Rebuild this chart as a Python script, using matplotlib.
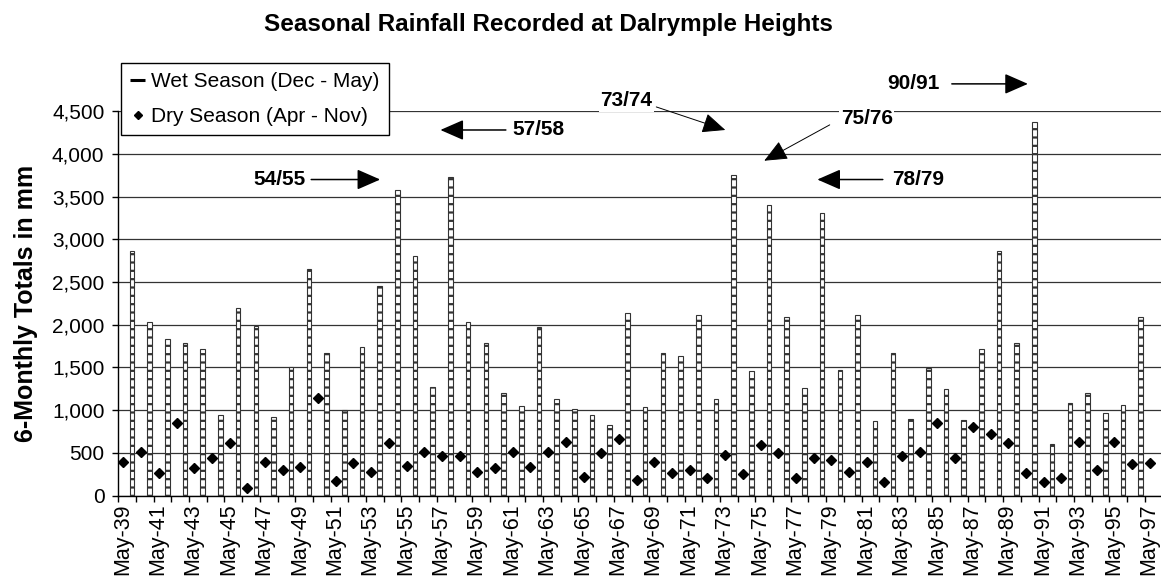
import numpy as np
import matplotlib.pyplot as plt
from matplotlib.lines import Line2D
from matplotlib.ticker import FuncFormatter
from matplotlib.transforms import ScaledTranslation

plt.rcParams['font.family'] = ['Liberation Sans', 'DejaVu Sans']
plt.rcParams['hatch.linewidth'] = 1.6

# Wet season (Dec - May) totals, plotted at May of each year
wet_years = list(range(1940, 1998))
wet_mm = [2860, 2030, 1830, 1780, 1710, 940, 2190, 1985, 925, 1510,
          2650, 1665, 1005, 1735, 2450, 3575, 2805, 1270, 3730, 2030,
          1780, 1205, 1045, 1970, 1130, 1015, 945, 825, 2140, 1040,
          1665, 1630, 2110, 1130, 3750, 1455, 3405, 2085, 1255, 3310,
          1475, 2110, 870, 1665, 890, 1490, 1250, 880, 1710, 2860,
          1780, 4370, 605, 1085, 1205, 965, 1065, 2090]

# Dry season (Apr - Nov) totals
dry_years = list(range(1939, 1998))
dry_mm = [396, 513, 267, 845, 318, 436, 611, 84, 389, 299,
          337, 1138, 173, 377, 271, 611, 349, 513, 466, 462,
          271, 326, 506, 337, 513, 630, 220, 494, 658, 182,
          396, 267, 299, 201, 474, 252, 591, 494, 201, 443,
          416, 271, 396, 155, 462, 513, 853, 443, 806, 716,
          611, 260, 155, 201, 630, 299, 630, 369, 377]

label_years = list(range(1939, 1998, 2))
tick_labels = [f"May-{y % 100:02d}" for y in label_years]

# notes: label, label position, arrow tail, arrow tip (year, mm)
notes = ["54/55", "57/58", "73/74", "75/76", "78/79", "90/91"]
note_xy = [(1948.1, 3700), (1962.75, 4280), (1967.7, 4620), (1981.3, 4410), (1984.2, 3700), (1983.95, 4820)]
tails = [(1949.9, 3700), (1960.9, 4280), (1969.4, 4550), (1979.2, 4340), (1982.2, 3700), (1986.1, 4820)]
tips = [(1953.8, 3700), (1957.2, 4280), (1973.3, 4280), (1975.5, 3920), (1978.5, 3700), (1990.4, 4820)]
thin = [False, False, True, True, False, False]

fig = plt.figure(figsize=(11.61, 5.76), dpi=100)
ax = fig.add_axes([118.3 / 1161, 80.5 / 576, 1 - 118.3 / 1161, 384.3 / 576])

ax.bar(np.array(wet_years) - 0.23, wet_mm, width=0.26, color='white',
       edgecolor='#333333', linewidth=0.8, hatch='--', zorder=3)
ax.plot(np.array(dry_years) + 0.29, dry_mm, 'D', color='black', ms=5,
        ls='none', zorder=4)

ax.set_xlim(1939, 1997.92)
ax.set_ylim(0, 4500)
ax.set_yticks(range(0, 4501, 500))
ax.yaxis.set_major_formatter(FuncFormatter(lambda v, p: f"{v:,.0f}"))
ax.set_xticks(label_years)
ax.set_xticklabels(tick_labels, rotation=90, ha='center', va='top')
ax.set_xticks(dry_years, minor=True)
ax.tick_params(axis='x', which='both', length=4.5, width=1, pad=1, labelsize=15.5)
ax.tick_params(axis='y', length=4, width=1, pad=6, labelsize=15)
for lab in ax.get_xticklabels():
    lab.set_transform(lab.get_transform() + ScaledTranslation(0.04, 0, fig.dpi_scale_trans))

ax.yaxis.grid(True, color='#333333', lw=0.9)
ax.set_axisbelow(True)
for s in ['top', 'right']:
    ax.spines[s].set_visible(False)
for s in ['left', 'bottom']:
    ax.spines[s].set_color('black')
    ax.spines[s].set_linewidth(1)

ax.set_ylabel('6-Monthly Totals in mm', fontsize=18, fontweight='bold', labelpad=10)
fig.text(548 / 1161, 1 - 25 / 576, 'Seasonal Rainfall Recorded at Dalrymple Heights',
         ha='center', va='center', fontsize=17.5, fontweight='bold')

for lab, txy, t0, t1, th in zip(notes, note_xy, tails, tips, thin):
    ax.annotate('', xy=t1, xytext=t0, annotation_clip=False,
                arrowprops=dict(arrowstyle='-|>,head_length=0.8,head_width=0.35',
                                mutation_scale=18, color='black',
                                lw=0.7 if th else 1.1, shrinkA=0, shrinkB=0))
    ax.text(txy[0], txy[1], lab, ha='center', va='center', fontsize=15,
            fontweight='bold', clip_on=False, zorder=5,
            bbox=dict(facecolor='white', edgecolor='none', pad=1))

handles = [Line2D([], [], color='black', lw=2.2, solid_capstyle='butt'),
           Line2D([], [], marker='D', color='black', ms=4, ls='none')]
leg = fig.legend(handles, ['Wet Season (Dec - May)', 'Dry Season (Apr - Nov)'],
                 loc='upper left', bbox_to_anchor=(121 / 1161, 1 - 63 / 576),
                 borderaxespad=0, fontsize=15, fancybox=False, framealpha=1,
                 edgecolor='black', handlelength=0.7, handletextpad=0.3,
                 labelspacing=0.75, borderpad=0.45)
leg.get_frame().set_linewidth(1)

fig.savefig('out.png', dpi=100)
